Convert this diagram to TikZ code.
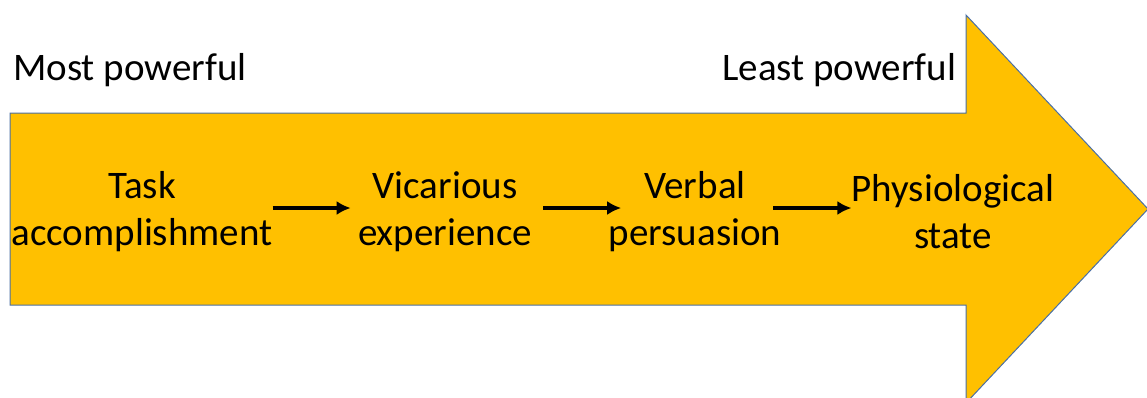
\documentclass[tikz,border=0pt]{standalone}
\usepackage{fontspec}
\setmainfont{Carlito}
\usetikzlibrary{arrows.meta}
\definecolor{goldfill}{HTML}{FFC000}
\definecolor{edgeblue}{HTML}{4A6FA5}

\begin{document}
\begin{tikzpicture}[x=1pt,y=-1pt,
    stage/.style={align=center,inner sep=0pt,font=\fontsize{39}{47}\selectfont},
    label/.style={anchor=base west,inner sep=0pt,font=\fontsize{39}{47}\selectfont},
    step arrow/.style={-{Latex[length=14pt,width=14pt]},line width=4.5pt}]
      \useasboundingbox (0,0) rectangle (1147,397);
      % the big arrow
      \draw[fill=goldfill,draw=edgeblue,line width=1pt]
        (10,113) -- (966,113) -- (966,15) -- (1148,209) -- (966,403)
        -- (966,305) -- (10,305) -- cycle;
      \node[label] (most) at (13,80) {Most powerful};
      \node[label] (least) at (722,80) {Least powerful};
      \node[stage] (task) at (142,212) {Task\\accomplishment};
      \node[stage] (vicar) at (445,212) {Vicarious\\experience};
      \node[stage] (verbal) at (695,212) {Verbal\\persuasion};
      \node[stage] (physio) at (953,212) {Physiological\\state};
      \draw[step arrow] (task.east |- 0,208) -- ++(78,0);
      \draw[step arrow] (vicar.east |- 0,208) ++(11,0) -- ++(78,0);
      \draw[step arrow] (verbal.east |- 0,208) ++(-8,0) -- ++(78,0);
\end{tikzpicture}
\end{document}
